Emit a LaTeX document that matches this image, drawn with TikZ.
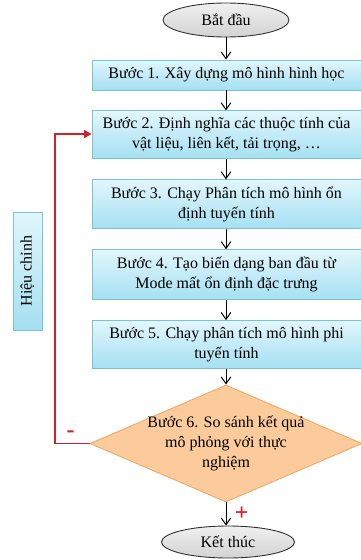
\documentclass[tikz,border=0pt]{standalone}
\usepackage{fontspec}
\setmainfont{Liberation Serif}
\usetikzlibrary{positioning,calc,arrows.meta,shapes.geometric}

\definecolor{boxtop}{HTML}{E2F6FC}
\definecolor{boxbot}{HTML}{A4E0F2}
\definecolor{boxline}{HTML}{7CC2D6}
\definecolor{decfill}{HTML}{FCCB9C}
\definecolor{decline}{HTML}{EFA866}
\definecolor{loopred}{HTML}{D0202A}

\begin{document}
\begin{tikzpicture}[
  x=1pt, y=1pt,
  font=\fontsize{16}{20}\selectfont,
  stepbox/.style={draw=boxline, line width=0.9pt, top color=boxtop, bottom color=boxbot,
    align=center, minimum width=269pt, inner sep=2pt},
  terminal/.style={ellipse, draw=black!80, line width=0.9pt, top color=gray!12,
    bottom color=gray!35, inner sep=0pt},
  decision/.style={diamond, draw=decline, line width=0.9pt, fill=decfill,
    align=center, inner xsep=-3pt, inner ysep=-2pt, minimum width=272pt,
    minimum height=117pt, aspect=2.3},
  flow/.style={->, line width=1pt},
  >={Straight Barb[length=2.4mm, width=3.4mm]}]
\useasboundingbox (0,0) rectangle (361,-560);
\node[terminal, minimum width=126pt, minimum height=34pt] (start) at (226,-20) {Bắt đầu};
\node[stepbox, minimum height=30pt] (b1) at (226.5,-75) {Bước 1. Xây dựng mô hình hình học};
\node[stepbox, minimum height=48pt, below=20pt of b1] (b2)
  {Bước 2. Định nghĩa các thuộc tính của\\ vật liệu, liên kết, tải trọng, \dots};
\node[stepbox, minimum height=49pt, below=20pt of b2] (b3)
  {Bước 3. Chạy Phân tích mô hình ổn\\ định tuyến tính};
\node[stepbox, minimum height=50pt, below=20pt of b3] (b4)
  {Bước 4. Tạo biến dạng ban đầu từ\\ Mode mất ổn định đặc trưng};
\node[stepbox, minimum height=48pt, below=20pt of b4] (b5)
  {Bước 5. Chạy phân tích mô hình phi\\ tuyến tính};
\node[decision] (b6) at (226,-443.5)
  {Bước 6. So sánh kết quả\\ mô phỏng với thực\\ nghiệm};
\node[terminal, minimum width=133pt, minimum height=32pt] (stop) at (228,-542) {Kết thúc};
% feedback box
\node[stepbox, minimum width=118pt, minimum height=29pt, rotate=90] (adjust) at (27.5,-271)
  {Hiệu chỉnh};
\coordinate (lb) at (55,-443.5);
\coordinate (lt) at (55,-134);
\draw[flow] (start) -- (start |- b1.north);
\draw[flow] (b1.south -| start) -- (b2.north -| start);
\draw[flow] (b2.south -| start) -- (b3.north -| start);
\draw[flow] (b3.south -| start) -- (b4.north -| start);
\draw[flow] (b4.south -| start) -- (b5.north -| start);
\draw[flow] (b5.south -| start) -- (b6.north -| start);
\draw[flow] (b6.south -| start) -- (stop.north -| start)
  node[midway, right=5pt, text=loopred, font=\bfseries\fontsize{24}{24}\selectfont] {+};
\draw[->, loopred, line width=1.2pt, >={Triangle[length=2.6mm, width=2.8mm]}]
  (b6.west) -- (lb) node[pos=0.55, above=2pt, font=\bfseries\fontsize{24}{24}\selectfont] {-}
  -- (lt) -- (lt -| b2.west);
\end{tikzpicture}
\end{document}
